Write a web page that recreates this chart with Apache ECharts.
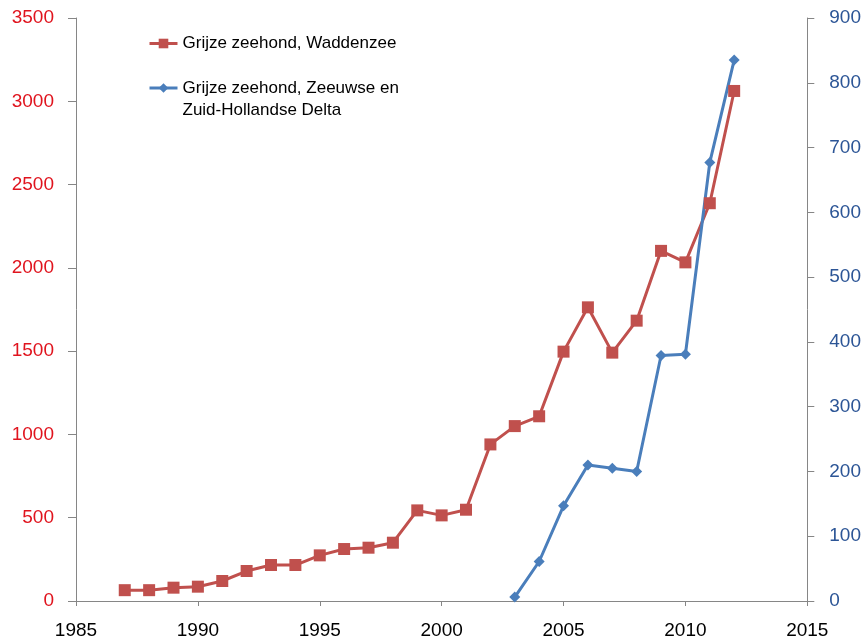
<!DOCTYPE html>
<html>
<head>
<meta charset="utf-8">
<script src="https://cdn.jsdelivr.net/npm/echarts@6/dist/echarts.min.js"></script>
<style>html,body{margin:0;padding:0;background:#fff}#c{width:864px;height:642px}</style>
</head>
<body>
<div id="c"></div>
<script>
var wadYears = [1987,1988,1989,1990,1991,1992,1993,1994,1995,1996,1997,1998,1999,2000,2001,2002,2003,2004,2005,2006,2007,2008,2009,2010,2011,2012];
var wadValues = [65,65,80,86,120,180,216,216,274,312,320,350,544,514,548,940,1050,1109,1497,1763,1491,1683,2102,2033,2388,3062];
var deltaYears = [2003,2004,2005,2006,2007,2008,2009,2010,2011,2012];
var deltaValues = [6,61,147,210,205,200,379,381,677,835];
var seriesNames = ['Grijze zeehond, Waddenzee', 'Grijze zeehond, Zeeuwse en\nZuid-Hollandse Delta'];

var FONT = 'Liberation Sans';
var chart = echarts.init(document.getElementById('c'), null, {renderer: 'canvas'});
function pairs(xs, ys){ return xs.map(function(x,i){ return [x, ys[i]]; }); }
function plain(v){ return String(v); }

chart.setOption({
  animation: false,
  backgroundColor: '#ffffff',
  textStyle: {fontFamily: FONT},
  grid: {left: 76, right: 56, top: 18, bottom: 41, containLabel: false},
  legend: [
    {
      data: [seriesNames[0]], left: 143, top: 30, orient: 'vertical',
      itemWidth: 28, itemHeight: 12,
      lineStyle: {width: 3},
      textStyle: {fontFamily: FONT, fontSize: 17, color: '#000'}
    },
    {
      data: [seriesNames[1]], left: 143, top: 50, orient: 'vertical',
      itemWidth: 28, itemHeight: 12,
      lineStyle: {width: 3},
      formatter: function(n){ return ' \n' + n; },
      textStyle: {fontFamily: FONT, fontSize: 17, color: '#000', lineHeight: 22}
    }
  ],
  xAxis: {
    type: 'value', min: 1985, max: 2015, interval: 5,
    axisLine: {show: true, lineStyle: {color: '#868686', width: 1}},
    axisTick: {show: true, length: 5, lineStyle: {color: '#868686'}},
    splitLine: {show: false},
    axisLabel: {fontFamily: FONT, fontSize: 19, color: '#000', margin: 20, formatter: plain}
  },
  yAxis: [
    {
      type: 'value', min: 0, max: 3500, interval: 500, position: 'left',
      axisLine: {show: true, lineStyle: {color: '#868686', width: 1}},
      axisTick: {show: true, length: 8, lineStyle: {color: '#868686'}},
      splitLine: {show: false},
      axisLabel: {fontFamily: FONT, fontSize: 19, color: '#e0141e', margin: 22, formatter: plain}
    },
    {
      type: 'value', min: 0, max: 900, interval: 100, position: 'right',
      axisLine: {show: true, lineStyle: {color: '#868686', width: 1}},
      axisTick: {show: true, length: 7, lineStyle: {color: '#868686'}},
      splitLine: {show: false},
      axisLabel: {fontFamily: FONT, fontSize: 19, color: '#2c5596', margin: 22, formatter: plain}
    }
  ],
  series: [
    {
      name: seriesNames[0], type: 'line', yAxisIndex: 0,
      data: pairs(wadYears, wadValues),
      symbol: 'rect', symbolSize: 12,
      lineStyle: {color: '#c0504d', width: 3},
      itemStyle: {color: '#c0504d'}
    },
    {
      name: seriesNames[1], type: 'line', yAxisIndex: 1,
      data: pairs(deltaYears, deltaValues),
      symbol: 'diamond', symbolSize: 11,
      lineStyle: {color: '#4a7ebb', width: 3},
      itemStyle: {color: '#4a7ebb'}
    }
  ]
});
</script>
</body>
</html>
